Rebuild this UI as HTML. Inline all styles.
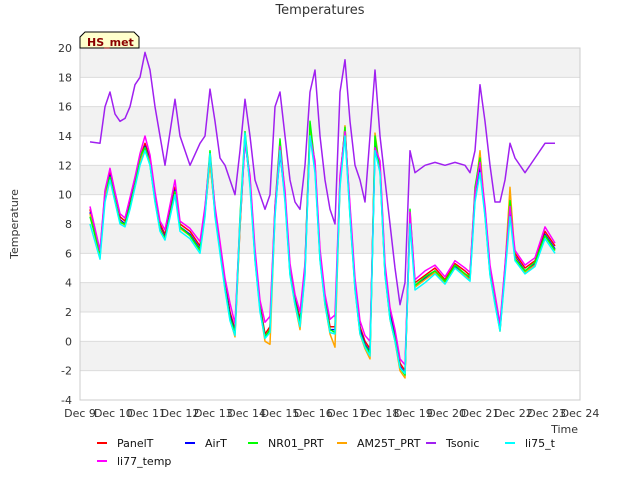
<!DOCTYPE html>
<html><head><meta charset="utf-8"><style>
body{margin:0;background:#fff;font-family:"Liberation Sans","DejaVu Sans",sans-serif}
svg text{font-family:"DejaVu Sans","Liberation Sans",sans-serif}
</style></head><body>
<svg id="c" width="640" height="480">
<text x="320" y="14" text-anchor="middle" font-size="13" fill="#333">Temperatures</text>
<g id="grid"></g>
<g id="series"></g>
<g id="axes"></g>
<text x="18" y="224" transform="rotate(-90 18 224)" text-anchor="middle" font-size="11" fill="#333">Temperature</text>
<text x="578" y="433" text-anchor="end" font-size="11" fill="#333">Time</text>
<g>
<path d="M80,48 L80,37 L85,32 L134,32 L139,37 L139,48 Z" fill="#ffffcc" stroke="#000" stroke-width="1"/>
<text x="87" y="46" font-size="11" font-weight="bold" fill="#8b0000">HS_met</text>
</g>
<g id="legend"></g>
</svg>
<script>
const days=[9.3,9.6,9.75,9.9,10.05,10.2,10.35,10.5,10.65,10.8,10.95,11.1,11.25,11.4,11.55,11.85,12.0,12.3,12.6,12.75,12.9,13.05,13.2,13.35,13.5,13.65,13.8,13.95,14.1,14.25,14.4,14.55,14.7,14.85,15.0,15.15,15.3,15.45,15.6,15.75,15.9,16.05,16.2,16.35,16.5,16.65,16.8,16.95,17.1,17.25,17.4,17.55,17.7,17.85,18.0,18.15,18.3,18.45,18.6,18.75,18.9,19.05,19.35,19.65,19.95,20.25,20.55,20.7,20.85,21.0,21.15,21.3,21.45,21.6,21.75,21.9,22.05,22.35,22.65,22.95,23.25];
const panelT=[9,6,10,11.5,10,8.5,8.2,9.5,11,12.5,13.5,12.5,10,8,7.3,10.5,8,7.5,6.5,9,12.5,9,6.5,4,2,0.8,8,14,11,6,2.5,0.5,1,9,13,10,5,3,1.5,5,14.5,12,6,3,1,1,11,14.5,9,4,1,0,-0.5,13.5,12,5,2,0.5,-1.5,-2,8.5,4,4.5,5,4.2,5.3,4.8,4.5,10,12,9,5,3,1,5,9,6,5,5.5,7.5,6.5];
const airT=[8.8,5.9,9.8,11.3,9.8,8.3,8,9.3,10.8,12.3,13.3,12.3,9.8,7.8,7.1,10.3,7.8,7.3,6.3,8.8,12.3,8.8,6.3,3.8,1.8,0.6,7.8,13.8,10.8,5.8,2.3,0.3,0.8,8.8,12.8,9.8,4.8,2.8,1.3,4.8,14.3,11.8,5.8,2.8,0.8,0.8,10.8,14.3,8.8,3.8,0.8,-0.2,-0.7,13.3,11.8,4.8,1.8,0.3,-1.7,-2.2,8.3,3.8,4.3,4.8,4,5.1,4.6,4.3,9.8,11.8,8.8,4.8,2.8,0.8,4.8,8.8,5.8,4.8,5.3,7.3,6.3];
const nr01=[8.5,6,10.2,11.2,9.6,8.1,8,9.2,10.6,12.6,13.2,12,9.6,7.6,7,10.2,7.8,7.2,6.2,9,13,9,6.4,3.6,1.6,0.6,8.5,14.3,11,5.6,2.2,0.3,0.8,9.2,13.8,10,4.6,2.7,1.2,5.2,15,12,5.6,2.7,0.8,0.6,11,14.6,8.6,3.6,0.6,-0.3,-0.8,14,11.6,4.6,1.6,0.2,-1.8,-2.3,9,3.8,4.4,4.8,4.1,5.2,4.6,4.4,10.5,12.5,8.6,4.6,2.6,0.8,5,9.6,5.6,4.8,5.4,7.2,6.2];
const am25t=[8.7,5.7,9.9,11.2,9.7,8.2,7.9,9.2,10.7,12.2,13.2,12.2,9.7,7.7,7,10.2,7.7,7.2,6.2,8.7,12.2,8.7,6.2,3.7,1.5,0.3,7.7,14,10.7,5.7,2.2,0,-0.2,8.7,13.5,9.7,4.7,2.5,0.8,4.7,14.5,12,5.7,2.5,0.5,-0.4,10.7,14.7,8.7,3.7,0.5,-0.5,-1.2,14.2,11.7,4.7,1.5,0,-2,-2.5,8.5,3.7,4.2,4.7,4,5,4.5,4.2,10,13,8.7,4.7,2.7,0.7,5,10.5,5.7,4.7,5.2,7.2,6.2];
const tsonic=[13.6,13.5,16,17,15.5,15,15.2,16,17.5,18,19.7,18.5,16,14,12,16.5,14,12,13.5,14,17.2,15,12.5,12,11,10,13,16.5,14,11,10,9,10,16,17,14,11,9.5,9,12,17,18.5,14,11,9,8,17,19.2,15,12,11,9.5,14,18.5,14,11,8,5,2.5,4,13,11.5,12,12.2,12,12.2,12,11.5,13,17.5,15,12,9.5,9.5,11,13.5,12.5,11.5,12.5,13.5,13.5];
const li75=[8,5.6,9.5,11,9.5,8,7.8,9,10.5,12,13,12,9.5,7.5,6.9,10,7.5,7,6,8.5,12.8,8.5,6,3.5,1.4,0.4,8.2,14.2,10.5,5.5,2,0.2,0.6,8.5,13,9.5,4.5,2.5,1,4.5,14,11.5,5.5,2.5,0.6,0.5,10.5,14,8.5,3.5,0.5,-0.4,-1,13,11.5,4.5,1.5,0,-1.8,-2.2,8,3.5,4,4.6,3.9,5,4.4,4.1,9.5,11.5,8.5,4.5,2.5,0.7,4.5,8.5,5.5,4.6,5.1,7,6];
const li77=[9.2,6.2,10.3,11.8,10.2,8.7,8.4,9.8,11.2,12.8,14,12.7,10.2,8.2,7.6,11,8.2,7.7,6.8,9.2,12.7,9.2,6.8,4.3,2.6,1.2,8.2,13.5,11.3,6.3,2.8,1.3,1.7,9.2,13.3,10.3,5.3,3.2,2,5.3,14,12.3,6.3,3.2,1.5,1.8,11.3,14.3,9.3,4.3,1.4,0.4,0,13.2,12.3,5.3,2.3,0.8,-1.2,-1.6,8.8,4.2,4.8,5.2,4.4,5.5,5,4.7,10.2,12.2,9.2,5.2,3.2,1.2,5.2,9.2,6.2,5.2,5.7,7.8,6.7];
const yTicks=[-4,-2,0,2,4,6,8,10,12,14,16,18,20];
const xTicks=[9,10,11,12,13,14,15,16,17,18,19,20,21,22,23,24];
const X0=80,X1=580,Y0=400,Y1=48;
const xs=d=>X0+(d-9)/(24-9)*(X1-X0);
const ys=v=>Y0-(v+4)/24*(Y0-Y1);
const NS="http://www.w3.org/2000/svg";
function mk(t,a,p){const e=document.createElementNS(NS,t);for(const k in a)e.setAttribute(k,a[k]);p.appendChild(e);return e;}
const grid=document.getElementById('grid'),axes=document.getElementById('axes'),ser=document.getElementById('series'),leg=document.getElementById('legend');
const bg=mk('rect',{x:X0,y:Y1,width:X1-X0,height:Y0-Y1,fill:'#fff',stroke:'#ccc'},grid);


for(let i=0;i<yTicks.length-1;i++){
  if(i%2===1){const b=mk('rect',{x:X0,y:ys(yTicks[i+1]),width:X1-X0,height:ys(yTicks[i])-ys(yTicks[i+1]),fill:'#f2f2f2'},grid);
  
  }
}
yTicks.forEach(v=>{
  const l=mk('line',{x1:X0,x2:X1,y1:ys(v),y2:ys(v),stroke:'#dcdcdc'},grid);
  
  
  const t=mk('text',{x:X0-8,y:ys(v)+4,'text-anchor':'end','font-size':11,fill:'#333'},axes);
  t.textContent=v;
  
  
});
mk('rect',{x:X0,y:Y1,width:X1-X0,height:Y0-Y1,fill:'none',stroke:'#ccc'},grid);
xTicks.forEach(d=>{
  const t=mk('text',{x:xs(d),y:Y0+17,'text-anchor':'middle','font-size':11,fill:'#333'},axes);
  t.textContent='Dec '+d;
  
  
});
const series=[['PanelT',panelT,'#ff0000'],['AirT',airT,'#0000ff'],['NR01_PRT',nr01,'#00ff00'],['AM25T_PRT',am25t,'#ffa500'],['Tsonic',tsonic,'#a020f0'],['li75_t',li75,'#00ffff'],['li77_temp',li77,'#ff00ff']];
const order=[4,0,1,3,2,6,5];
order.forEach(i=>{
  const [n,vals,c]=series[i];
  const p=mk('polyline',{points:days.map((d,j)=>xs(d).toFixed(1)+','+ys(vals[j]).toFixed(1)).join(' '),fill:'none',stroke:c,'stroke-width':1.5,'stroke-linejoin':'round'},ser);
  
  
});
const lpos=[[97,443],[185,443],[248,443],[337,443],[426,443],[505,443],[97,461]];
series.forEach(([n,v,c],i)=>{
  const [x,y]=lpos[i];
  const g=mk('g',{},leg);
  
  
  mk('line',{x1:x,x2:x+10,y1:y,y2:y,stroke:c,'stroke-width':2},g);
  const t=mk('text',{x:x+20,y:y+4,'font-size':11,fill:'#111'},g);
  t.textContent=n;
});
</script>
</body></html>
